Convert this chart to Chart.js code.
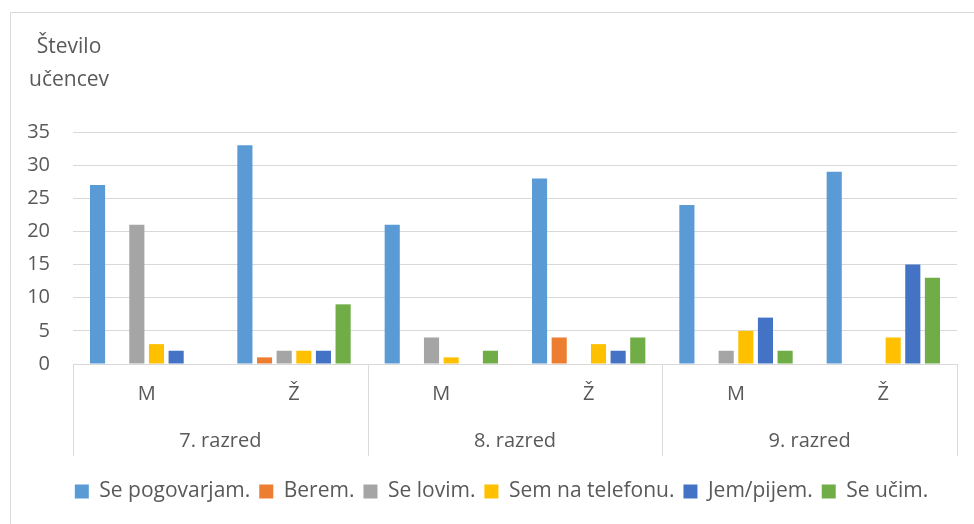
<!DOCTYPE html>
<html>
<head>
<meta charset="utf-8">
<script src="https://cdn.jsdelivr.net/npm/chart.js@4"></script>
<style>
  html, body { margin:0; padding:0; background:#fff; }
  #wrap { width:974px; height:524px; }
</style>
</head>
<body>
<div id="wrap"><canvas id="chart" width="974" height="524"></canvas></div>
<script>
// data
const groups = ['7. razred','8. razred','9. razred'];
const genders = ['M','Ž','M','Ž','M','Ž'];
const seriesNames = ['Se pogovarjam.','Berem.','Se lovim.','Sem na telefonu.','Jem/pijem.','Se učim.'];
const sePogovarjam = [27,33,21,28,24,29];
const berem        = [0,1,0,4,0,0];
const seLovim      = [21,2,4,0,2,0];
const semNaTel     = [3,2,1,3,5,4];
const jemPijem     = [2,2,0,2,7,15];
const seUcim       = [0,9,2,4,2,13];
const yTicks = [0,5,10,15,20,25,30,35];

const colors = ['#5B9BD5','#ED7D31','#A5A5A5','#FFC000','#4472C4','#70AD47'];
const values = [sePogovarjam, berem, seLovim, semNaTel, jemPijem, seUcim];
const FONT = 'Open Sans';
const TXT = '#595959';
const LINE = '#d9d9d9';

const extras = {
  id:'extras',
  afterLayout(chart){
    // nudge legend to the right like the original
    if (chart.legend) chart.legend.left += 36;
  },
  afterDraw(chart){
    const {ctx, chartArea:a, scales:{x}} = chart;
    ctx.save();
    // outer frame (top + left visible)
    ctx.strokeStyle = LINE; ctx.lineWidth = 1;
    ctx.beginPath();
    ctx.moveTo(10.5, 530); ctx.lineTo(10.5, 12.5); ctx.lineTo(980, 12.5);
    ctx.stroke();
    // axis title
    ctx.fillStyle = TXT;
    ctx.font = '21px "' + FONT + '"';
    ctx.textAlign = 'center'; ctx.textBaseline = 'alphabetic';
    ctx.fillText('Število', 69, 53);
    ctx.fillText('učencev', 69, 86);
    // group separators + labels
    const bottom = a.bottom + 92;
    const step = x.getPixelForValue(1) - x.getPixelForValue(0);
    ctx.beginPath();
    for (let g = 0; g <= groups.length; g++) {
      const px = Math.round(x.getPixelForValue(g*2) - step/2) + 0.5;
      ctx.moveTo(px, a.bottom); ctx.lineTo(px, bottom);
    }
    ctx.stroke();
    ctx.font = '20px "' + FONT + '"';
    ctx.textBaseline = 'middle';
    groups.forEach((g, i) => {
      const cx = (x.getPixelForValue(i*2) + x.getPixelForValue(i*2+1)) / 2;
      ctx.fillText(g, cx, a.bottom + 77);
    });
    ctx.restore();
  }
};

new Chart(document.getElementById('chart'), {
  type:'bar',
  data:{
    labels: genders,
    datasets: seriesNames.map((n, i) => ({
      label:n, data:values[i], backgroundColor:colors[i],
      categoryPercentage:0.8, barPercentage:0.77
    }))
  },
  options:{
    responsive:false, animation:false,
    layout:{ padding:{ left:10, right:17, top:132, bottom:12 } },
    plugins:{
      legend:{ position:'bottom',
        labels:{ font:{ family:FONT, size:21 }, color:TXT, boxWidth:14, boxHeight:14, padding:9 } },
      tooltip:{ enabled:false }
    },
    scales:{
      y:{ min:0, max:35, afterFit(s){ s.width = 63; },
        afterBuildTicks(s){ s.ticks = yTicks.map(v => ({value:v})); },
        border:{ display:false },
        grid:{ color:LINE, drawTicks:false },
        ticks:{ font:{ family:FONT, size:20 }, color:TXT, padding:23 } },
      x:{ afterFit(s){ s.height = 108; },
        border:{ color:LINE },
        grid:{ display:false, drawTicks:false },
        ticks:{ font:{ family:FONT, size:20 }, color:TXT, padding:18, maxRotation:0 } }
    }
  },
  plugins:[extras]
});
</script>
</body>
</html>
